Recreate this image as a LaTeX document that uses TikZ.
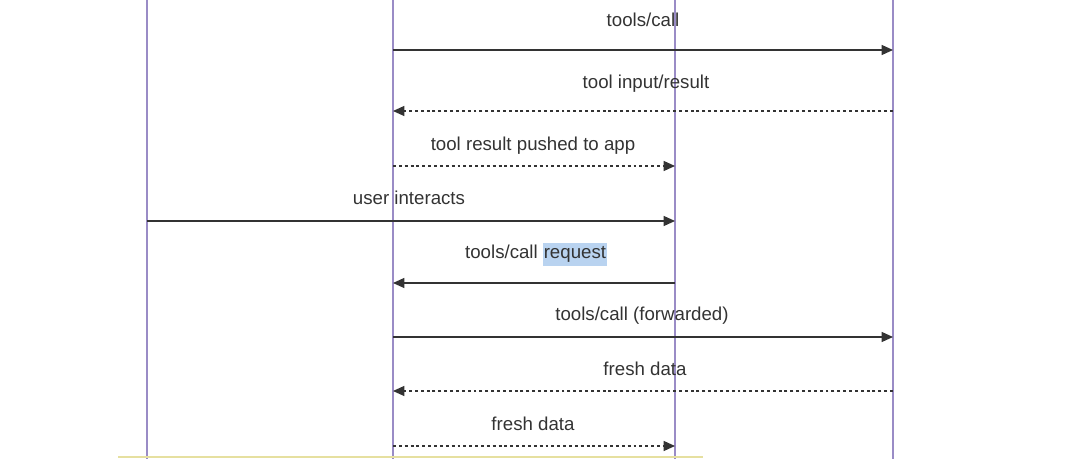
\documentclass[tikz,border=0pt]{standalone}
\usepackage{fontspec}
\setmainfont{Liberation Sans}
\usetikzlibrary{arrows.meta}
\definecolor{life}{HTML}{9A8CC6}
\definecolor{ink}{HTML}{333333}
\definecolor{hl}{HTML}{B9D3F0}
\definecolor{baseline}{HTML}{E6E0A0}
\tikzset{
  lifeline/.style={draw=life, line width=1.5pt},
  msg/.style={draw=ink, line width=0.9pt, -{Triangle[length=8.5pt,width=7.5pt]}},
  reply/.style={msg, dash pattern=on 2.2pt off 2.2pt},
  lbl/.style={font=\fontsize{14}{16}\selectfont, text=ink, inner sep=0pt, anchor=base},
}
\begin{document}
\begin{tikzpicture}[x=0.75pt,y=-0.75pt]
\useasboundingbox (0,0) rectangle (1079,459);
% lifelines
\coordinate (a0) at (147,0); \coordinate (a1) at (147,459);
\coordinate (b0) at (393,0); \coordinate (b1) at (393,459);
\coordinate (c0) at (675,0); \coordinate (c1) at (675,459);
\coordinate (d0) at (893,0); \coordinate (d1) at (893,459);
\draw[lifeline] (a0) -- (a1);
\draw[lifeline] (b0) -- (b1);
\draw[lifeline] (c0) -- (c1);
\draw[lifeline] (d0) -- (d1);
% bottom line
\coordinate (y0) at (118,457.5); \coordinate (y1) at (703,457.5);
\draw[draw=baseline, line width=1.5pt] (y0) -- (y1);
% message endpoints
\coordinate (m1s) at (393,50);  \coordinate (m1e) at (893,50);
\coordinate (m2s) at (893,111); \coordinate (m2e) at (393,111);
\coordinate (m3s) at (393,166); \coordinate (m3e) at (675,166);
\coordinate (m4s) at (147,221); \coordinate (m4e) at (675,221);
\coordinate (m5s) at (675,283); \coordinate (m5e) at (393,283);
\coordinate (m6s) at (393,337); \coordinate (m6e) at (893,337);
\coordinate (m7s) at (893,391); \coordinate (m7e) at (393,391);
\coordinate (m8s) at (393,446); \coordinate (m8e) at (675,446);
\draw[msg] (m1s) -- (m1e);
\draw[reply] (m2s) -- (m2e);
\draw[reply] (m3s) -- (m3e);
\draw[msg] (m4s) -- (m4e);
\draw[msg] (m5s) -- (m5e);
\draw[msg] (m6s) -- (m6e);
\draw[reply] (m7s) -- (m7e);
\draw[reply] (m8s) -- (m8e);
% labels
\node[lbl] (l1) at (643,27) {tools/call};
\node[lbl] (l2) at (646,89) {tool input/result};
\node[lbl] (l3) at (533,151) {tool result pushed to app};
\node[lbl] (l4) at (409,205) {user interacts};
\node[lbl] (l5) at (536,259) {tools/call \setlength{\fboxsep}{0.6pt}\colorbox{hl}{\strut request}};
\node[lbl] (l6) at (642,321) {tools/call (forwarded)};
\node[lbl] (l7) at (645,376) {fresh data};
\node[lbl] (l8) at (533,431) {fresh data};
\end{tikzpicture}
\end{document}
